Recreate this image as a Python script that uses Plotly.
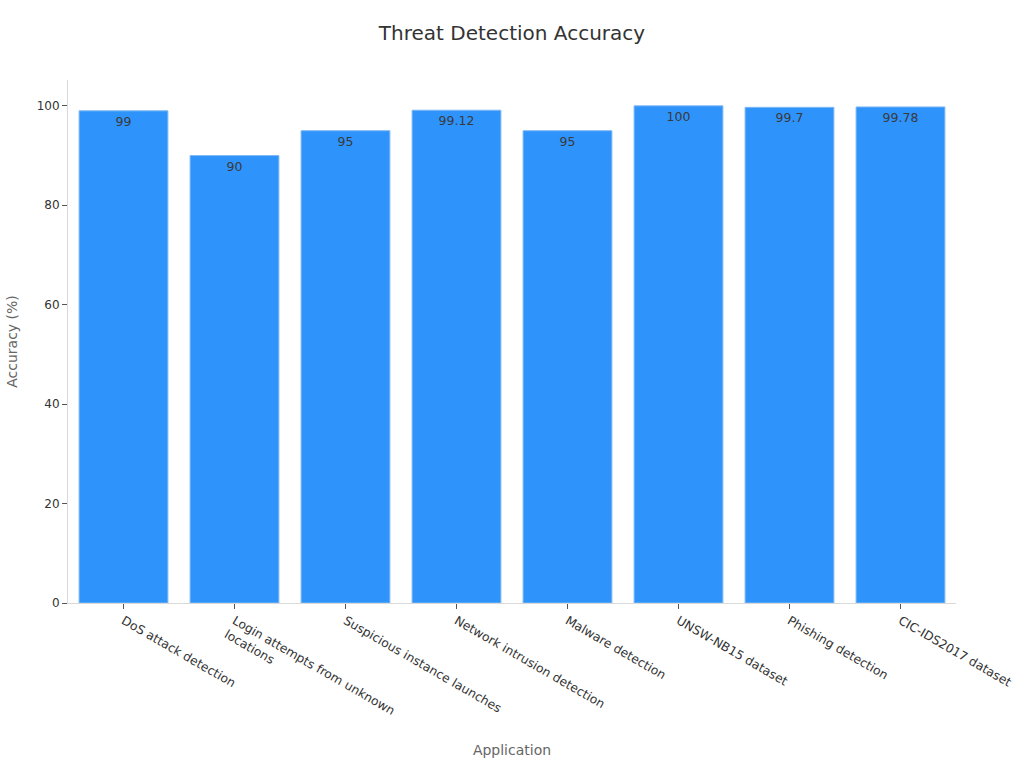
import plotly.graph_objects as go

categories = ["DoS attack detection", "Login attempts from unknown<br>locations",
              "Suspicious instance launches", "Network intrusion detection",
              "Malware detection", "UNSW-NB15 dataset", "Phishing detection",
              "CIC-IDS2017 dataset"]
accuracy = [99, 90, 95, 99.12, 95, 100, 99.7, 99.78]
labels = ["99", "90", "95", "99.12", "95", "100", "99.7", "99.78"]

fig = go.Figure(go.Bar(
    x=categories, y=accuracy, text=labels,
    textposition="inside", insidetextanchor="end",
    textfont=dict(color="#3A3A3A", size=12.5),
    marker=dict(color="#2E93FA", line=dict(color="#7FB8F5", width=1)),
    hoverinfo="x+y",
))

fig.update_layout(
    width=1024, height=768,
    margin=dict(l=68, r=68, t=80, b=165),
    paper_bgcolor="white", plot_bgcolor="white",
    font=dict(family="DejaVu Sans", color="#333333", size=12),
    title=dict(text="Threat Detection Accuracy", x=0.5, xanchor="center", y=0.957, yanchor="middle",
               font=dict(size=20, color="#333333")),
    bargap=0.2,
    showlegend=False,
    xaxis=dict(title=dict(text="Application", font=dict(size=14, color="#666666"), standoff=14),
               tickangle=30, showline=True, linecolor="#D9D9D9", ticks="outside",
               tickcolor="#555555", ticklen=5, showgrid=False, automargin=False,
               tickfont=dict(size=12.3, color="#333333")),
    yaxis=dict(title=dict(text="Accuracy (%)", font=dict(size=14, color="#666666")),
               range=[0, 105.2], showline=True, linecolor="#D9D9D9", ticks="outside",
               tickcolor="#555555", ticklen=5, showgrid=False, zeroline=False,
               automargin=False, dtick=20, tickfont=dict(size=12, color="#333333")),
)

fig.write_html("out.html")
